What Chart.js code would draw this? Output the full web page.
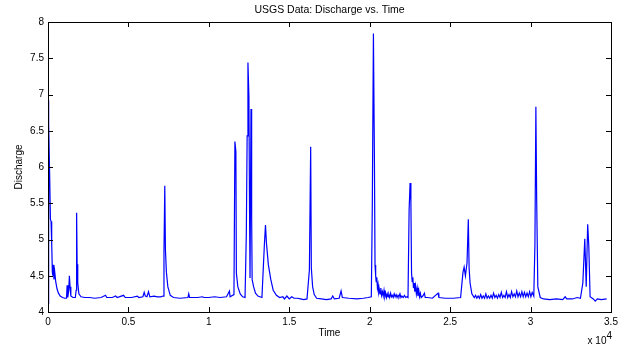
<!DOCTYPE html>
<html>
<head>
<meta charset="utf-8">
<title>USGS Data: Discharge vs. Time</title>
<script src="https://cdn.jsdelivr.net/npm/chart.js@4.4.1/dist/chart.umd.min.js"></script>
<style>
  html, body { margin: 0; padding: 0; background: #fff; }
  #chart { display: block; }
</style>
</head>
<body>
<canvas id="chart" width="627" height="347"></canvas>
<script>
// ---------- Data (time, discharge) — one line of each array per chunk ----------
const timeSec = [
  0, 20, 60, 110, 150, 190, 230, 270, 300, 330,
  370, 420, 480, 560, 650, 760, 900, 1050, 1150, 1190,
  1230, 1290, 1330, 1370, 1420, 1550, 1700, 1750, 1780, 1810,
  1850, 1920, 2050, 2300, 2600, 2900, 3300, 3580, 3650, 4000,
  4200, 4300, 4700, 4800, 5200, 5550, 5650, 5900, 5980, 6050,
  6150, 6250, 6330, 6600, 6800, 7000, 7150, 7210, 7260, 7300,
  7360, 7450, 7600, 7800, 8200, 8700, 8750, 8800, 9300, 9600,
  9700, 10000, 10350, 10700, 11100, 11280, 11320, 11560, 11620, 11680,
  11710, 11800, 11950, 12100, 12250, 12330, 12380, 12430, 12490, 12530,
  12560, 12620, 12660, 12690, 12780, 12900, 13050, 13300, 13450, 13520,
  13580, 13700, 13850, 14000, 14200, 14400, 14600, 14700, 14850, 15000,
  15150, 15300, 15500, 15700, 15900, 16100, 16250, 16330, 16370, 16450,
  16550, 16700, 17000, 17300, 17600, 17700, 17800, 18100, 18220, 18300,
  18700, 19200, 19600, 19900, 20100, 20160, 20230, 20290, 20330, 20370,
  20400, 20440, 20480, 20520, 20560, 20600, 20640, 20690, 20740, 20790,
  20840, 20890, 20940, 20990, 21040, 21090, 21140, 21190, 21240, 21300,
  21350, 21400, 21460, 21520, 21580, 21640, 21700, 21760, 21820, 21880,
  21940, 22000, 22080, 22160, 22240, 22320, 22380, 22450, 22510, 22560,
  22600, 22640, 22680, 22720, 22760, 22800, 22850, 22900, 22950, 23000,
  23050, 23100, 23150, 23200, 23300, 23400, 23450, 23600, 23900, 24250,
  24300, 24700, 25200, 25650, 25730, 25800, 25870, 25950, 26050, 26130,
  26180, 26240, 26350, 26500, 26580, 26660, 26740, 26820, 26900, 26980,
  27060, 27140, 27220, 27300, 27380, 27460, 27540, 27620, 27700, 27780,
  27860, 27940, 28020, 28100, 28180, 28260, 28340, 28420, 28500, 28580,
  28660, 28740, 28820, 28900, 28980, 29060, 29140, 29220, 29300, 29380,
  29460, 29540, 29620, 29700, 29780, 29860, 29940, 30020, 30100, 30200,
  30270, 30330, 30380, 30450, 30600, 30800, 31200, 31600, 32000, 32150,
  32250, 32600, 32900, 33100, 33250, 33370, 33460, 33550, 33620, 33700,
  33900, 34020, 34150, 34400, 34730
];
const discharge = [
  4.12, 6.92, 6.6, 5.8, 5.28, 5.25, 4.95, 4.55, 4.5, 4.65,
  4.45, 4.55, 4.42, 4.32, 4.26, 4.22, 4.2, 4.19, 4.19, 4.37,
  4.2, 4.3, 4.5, 4.35, 4.22, 4.2, 4.2, 4.3, 5.37, 4.66,
  4.4, 4.25, 4.21, 4.2, 4.2, 4.19, 4.2, 4.23, 4.2, 4.2,
  4.22, 4.2, 4.23, 4.2, 4.2, 4.22, 4.2, 4.21, 4.27, 4.22,
  4.21, 4.28, 4.21, 4.22, 4.21, 4.21, 4.22, 4.83, 5.74, 4.86,
  4.55, 4.35, 4.23, 4.2, 4.19, 4.2, 4.25, 4.2, 4.2, 4.21,
  4.2, 4.2, 4.21, 4.2, 4.21, 4.29, 4.21, 4.24, 6.35, 6.21,
  4.54, 4.35, 4.25, 4.21, 4.2, 5.09, 6.43, 7.44, 6.98, 5.37,
  4.47, 6.80, 5.31, 4.45, 4.35, 4.26, 4.22, 4.2, 4.92, 5.20,
  4.95, 4.65, 4.45, 4.3, 4.23, 4.2, 4.21, 4.18, 4.22, 4.18,
  4.21, 4.19, 4.19, 4.18, 4.17, 4.18, 4.58, 6.28, 4.61, 4.35,
  4.24, 4.19, 4.18, 4.17, 4.18, 4.22, 4.18, 4.19, 4.29, 4.2,
  4.19, 4.18, 4.19, 4.2, 4.21, 5.43, 7.84, 6.19, 4.65, 4.5,
  4.42, 4.48, 4.33, 4.38, 4.27, 4.31, 4.25, 4.33, 4.23, 4.28,
  4.22, 4.3, 4.21, 4.26, 4.2, 4.25, 4.21, 4.24, 4.2, 4.26,
  4.21, 4.23, 4.2, 4.25, 4.21, 4.24, 4.2, 4.23, 4.21, 4.25,
  4.2, 4.22, 4.2, 4.23, 4.2, 4.21, 4.2, 5.41, 5.78, 5.52,
  4.54, 4.42, 4.48, 4.33, 4.4, 4.28, 4.36, 4.25, 4.33, 4.22,
  4.3, 4.21, 4.26, 4.2, 4.22, 4.26, 4.2, 4.2, 4.19, 4.26,
  4.2, 4.19, 4.19, 4.2, 4.39, 4.55, 4.62, 4.5, 4.68, 5.28,
  4.6, 4.4, 4.25, 4.2, 4.23, 4.19, 4.22, 4.19, 4.24, 4.19,
  4.22, 4.19, 4.25, 4.19, 4.22, 4.19, 4.23, 4.19, 4.26, 4.2,
  4.23, 4.19, 4.24, 4.2, 4.27, 4.2, 4.23, 4.2, 4.28, 4.2,
  4.24, 4.2, 4.28, 4.21, 4.25, 4.21, 4.29, 4.21, 4.26, 4.21,
  4.28, 4.21, 4.27, 4.21, 4.26, 4.21, 4.28, 4.21, 4.27, 4.22,
  4.92, 6.83, 5.54, 4.35, 4.2, 4.18, 4.17, 4.18, 4.17, 4.21,
  4.18, 4.18, 4.2, 4.19, 4.4, 5.01, 4.35, 5.21, 4.91, 4.21,
  4.18, 4.15, 4.18, 4.17, 4.18
];
const xTicks = [0, 5000, 10000, 15000, 20000, 25000, 30000, 35000];
const yTicks = [4, 4.5, 5, 5.5, 6, 6.5, 7, 7.5, 8];

const TITLE = "USGS Data: Discharge vs. Time";
const X_LABEL = "Time";
const Y_LABEL = "Discharge";
const FONT = "'Liberation Sans', Arial, Helvetica, sans-serif";
const INK = "#000";

// ---------- MATLAB-ish frame: box, inward ticks, labels ----------
const matlabFrame = {
  id: "matlabFrame",
  afterDraw(chart) {
    const { ctx, chartArea: a, scales } = chart;
    const L = 5;
    ctx.save();
    ctx.strokeStyle = INK;
    ctx.lineWidth = 1;
    ctx.strokeRect(Math.round(a.left) + 0.5, Math.round(a.top) + 0.5,
      Math.round(a.right - a.left), Math.round(a.bottom - a.top));
    ctx.beginPath();
    xTicks.forEach((v) => {
      const x = Math.round(scales.x.getPixelForValue(v)) + 0.5;
      ctx.moveTo(x, a.bottom); ctx.lineTo(x, a.bottom - L);
      ctx.moveTo(x, a.top); ctx.lineTo(x, a.top + L);
    });
    yTicks.forEach((v) => {
      const y = Math.round(scales.y.getPixelForValue(v)) + 0.5;
      ctx.moveTo(a.left, y); ctx.lineTo(a.left + L, y);
      ctx.moveTo(a.right, y); ctx.lineTo(a.right - L, y);
    });
    ctx.stroke();

    ctx.fillStyle = INK;
    const cx = (a.left + a.right) / 2;
    ctx.textAlign = "center";
    ctx.textBaseline = "middle";
    ctx.font = `10.5px ${FONT}`;
    ctx.fillText(TITLE, cx, 10);
    ctx.font = `10px ${FONT}`;
    ctx.fillText(X_LABEL, cx, 333);
    ctx.save();
    ctx.translate(19, (a.top + a.bottom) / 2);
    ctx.rotate(-Math.PI / 2);
    ctx.fillText(Y_LABEL, 0, 0);
    ctx.restore();

    // exponent label
    ctx.textAlign = "right";
    ctx.fillText("4", a.right + 1, 336);
    const w4 = ctx.measureText("4").width;
    ctx.fillText("x 10", a.right + 1 - w4, 341);
    ctx.restore();
  },
};

const points = timeSec.map((t, i) => ({ x: t, y: discharge[i] }));

new Chart(document.getElementById("chart"), {
  type: "line",
  data: {
    datasets: [
      {
        data: points,
        borderColor: "#0000ff",
        borderWidth: 1.2,
        pointRadius: 0,
        tension: 0,
        fill: false,
      },
    ],
  },
  options: {
    responsive: false,
    animation: false,
    layout: { padding: { top: 22, right: 16, left: 0, bottom: 0 } },
    plugins: { legend: { display: false }, tooltip: { enabled: false } },
    scales: {
      x: {
        type: "linear",
        min: 0,
        max: 35000,
        afterFit: (s) => { s.height = 35; },
        afterBuildTicks: (s) => { s.ticks = xTicks.map((v) => ({ value: v })); },
        grid: { display: false, drawTicks: false },
        border: { display: false },
        ticks: {
          padding: 4,
          color: INK,
          font: { family: FONT, size: 10 },
          maxRotation: 0,
          callback: (v) => String(v / 10000),
        },
      },
      y: {
        min: 4,
        max: 8,
        afterFit: (s) => { s.width = 48; },
        afterBuildTicks: (s) => { s.ticks = yTicks.map((v) => ({ value: v })); },
        grid: { display: false, drawTicks: false },
        border: { display: false },
        ticks: {
          padding: 4,
          color: INK,
          font: { family: FONT, size: 10 },
          callback: (v) => String(v),
        },
      },
    },
  },
  plugins: [matlabFrame],
});
</script>
</body>
</html>
